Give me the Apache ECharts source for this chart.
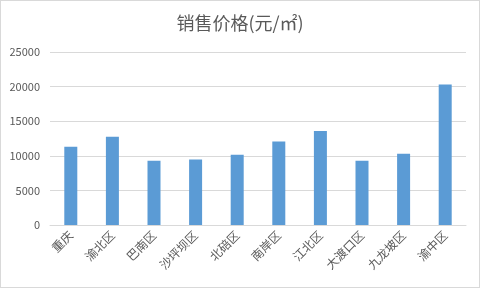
<!DOCTYPE html>
<html><head><meta charset="utf-8">
<script src="https://cdn.jsdelivr.net/npm/echarts@6/dist/echarts.min.js"></script>
<style>html,body{margin:0;padding:0;background:#fff}#c{width:480px;height:288px;box-sizing:border-box;border:1px solid #d9d9d9}</style>
</head><body><div id="c"></div>
<script>
const categories = ['重庆','渝北区','巴南区','沙坪坝区','北碚区','南岸区','江北区','大渡口区','九龙坡区','渝中区'];
const prices = [11300, 12750, 9300, 9450, 10150, 12050, 13600, 9300, 10300, 20300];
const titleText = '销售价格(元/㎡)';
const font = '"Noto Sans CJK SC", "Microsoft YaHei", sans-serif';
const chart = echarts.init(document.getElementById('c'), null, {renderer:'canvas'});
chart.setOption({
  animation:false,
  title:{text:titleText,left:'center',top:8,textStyle:{fontFamily:font,fontSize:18,fontWeight:'normal',color:'#595959'}},
  grid:{left:49,right:13,top:51,bottom:62},
  xAxis:{type:'category',data:categories,
    axisLine:{lineStyle:{color:'#d9d9d9'}},axisTick:{show:false},
    axisLabel:{rotate:45,interval:0,fontFamily:font,fontSize:12,color:'#595959',margin:8}},
  yAxis:{type:'value',min:0,max:25000,interval:5000,
    axisLine:{show:false},axisTick:{show:false},
    splitLine:{lineStyle:{color:'#d9d9d9'}},
    axisLabel:{fontFamily:font,fontSize:11,color:'#595959',margin:10,formatter:v=>String(v)}},
  series:[{type:'bar',data:prices,barWidth:13,itemStyle:{color:'#5b9bd5'}}]
});
</script></body></html>
